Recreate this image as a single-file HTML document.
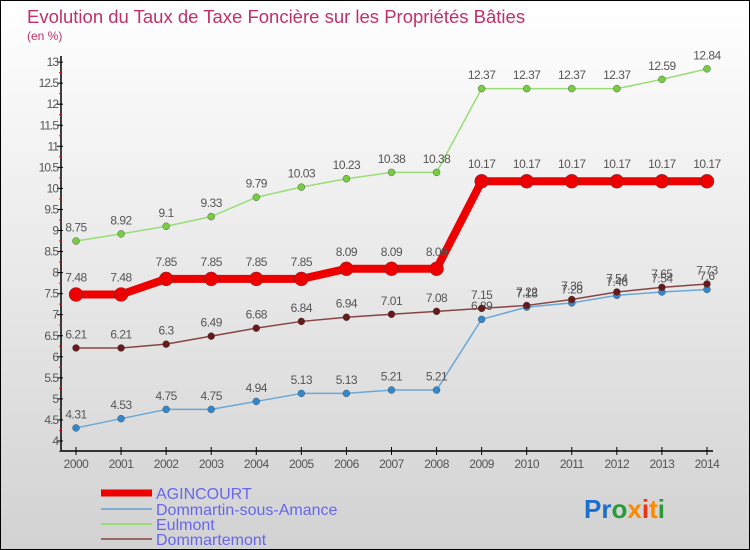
<!DOCTYPE html>
<html><head><meta charset="utf-8"><style>
body{margin:0}
#wrap{width:748px;height:548px;border:1px solid #000;background:linear-gradient(#ffffff,#d2d2d2);position:relative;overflow:hidden;font-family:"Liberation Sans",sans-serif}
</style></head><body>
<div id="wrap">
<svg id="svg" width="748" height="548" xmlns="http://www.w3.org/2000/svg">
<text x="26" y="22" font-size="18.5" fill="#c0306a">Evolution du Taux de Taxe Foncière sur les Propriétés Bâties</text>
<text x="26" y="39" font-size="12" fill="#c0306a">(en %)</text>
<g id="axes"></g>
<g id="series"></g>
<g>
<line x1="100" y1="492" x2="151" y2="492" stroke="#ee0000" stroke-width="7"/>
<text x="155" y="498" font-size="16" fill="#6666ee">AGINCOURT</text>
<line x1="100" y1="508" x2="151" y2="508" stroke="#7aaed2" stroke-width="2"/>
<text x="155" y="514" font-size="16" fill="#6666ee">Dommartin-sous-Amance</text>
<line x1="100" y1="523" x2="151" y2="523" stroke="#99dd77" stroke-width="2"/>
<text x="155" y="529" font-size="16" fill="#6666ee">Eulmont</text>
<line x1="100" y1="538" x2="151" y2="538" stroke="#996666" stroke-width="2"/>
<text x="155" y="544" font-size="16" fill="#6666ee">Dommartemont</text>
</g>
<text x="583" y="517" font-size="26" font-weight="bold"><tspan fill="#1a6fd0">Pr</tspan><tspan fill="#2a9a3a">o</tspan><tspan fill="#ff8800">x</tspan><tspan fill="#ee3311">i</tspan><tspan fill="#ff8800">t</tspan><tspan fill="#2a9a3a">i</tspan></text>
</svg>
</div>
<script>
const years=[2000,2001,2002,2003,2004,2005,2006,2007,2008,2009,2010,2011,2012,2013,2014];
const agincourt=[7.48,7.48,7.85,7.85,7.85,7.85,8.09,8.09,8.09,10.17,10.17,10.17,10.17,10.17,10.17];
const dommartin=[4.31,4.53,4.75,4.75,4.94,5.13,5.13,5.21,5.21,6.89,7.18,7.28,7.46,7.54,7.6];
const eulmont=[8.75,8.92,9.1,9.33,9.79,10.03,10.23,10.38,10.38,12.37,12.37,12.37,12.37,12.59,12.84];
const dommartemont=[6.21,6.21,6.3,6.49,6.68,6.84,6.94,7.01,7.08,7.15,7.22,7.36,7.54,7.65,7.73];
const yTicks=[4,4.5,5,5.5,6,6.5,7,7.5,8,8.5,9,9.5,10,10.5,11,11.5,12,12.5,13];
const NS="http://www.w3.org/2000/svg";
const X=i=>75+i*45.07;
const Y=v=>440-(v-4)*42.1;
function mk(tag,attrs,parent){const e=document.createElementNS(NS,tag);for(const k in attrs)e.setAttribute(k,attrs[k]);parent.appendChild(e);return e;}
const ax=document.getElementById('axes');
let l=mk('line',{x1:60,y1:55,x2:60,y2:450,stroke:'#000','stroke-width':1.5},ax);


l=mk('line',{x1:60,y1:450,x2:712,y2:450,stroke:'#000','stroke-width':1.5},ax);


yTicks.forEach(v=>{
  const y=Y(v);
  mk('line',{x1:56,y1:y,x2:62,y2:y,stroke:'#000'},ax);
  mk('line',{x1:58,y1:y+10.5,x2:61,y2:y+10.5,stroke:'#f00'},ax);
  const t=mk('text',{x:57,y:y+4,'font-size':12,fill:'#555','text-anchor':'end','letter-spacing':'-1'},ax);
  t.textContent=String(v);
  
  
});
years.forEach((yr,i)=>{
  const x=X(i);
  mk('line',{x1:x,y1:446,x2:x,y2:454,stroke:'#000'},ax);
  const t=mk('text',{x:x,y:467,'font-size':12,fill:'#555','text-anchor':'middle','letter-spacing':'-0.5'},ax);
  t.textContent=String(yr);
  
  
});
const sg=document.getElementById('series');
function series(vals,color,dot,w,r,name){
  const g=mk('g',{},sg);
  
  
  const p=mk('polyline',{points:vals.map((v,i)=>X(i)+','+Y(v)).join(' '),fill:'none',stroke:color,'stroke-width':w,'stroke-linejoin':'round'},g);
  
  
  vals.forEach((v,i)=>{
    const c=mk('circle',{cx:X(i),cy:Y(v),r:r,fill:dot,stroke:'#444','stroke-width':0.4},g);
    
    
    const t=mk('text',{x:X(i),y:Y(v)-r-6,'font-size':12,fill:'#555','text-anchor':'middle','letter-spacing':'-0.5'},g);
    t.textContent=String(v);
    
    
  });
}
series(eulmont,'#99dd77','#77cc44',1.5,3.5,'eulmont');
series(dommartin,'#6aa8d8','#3388cc',1.5,3.5,'dommartin');
series(dommartemont,'#884444','#661a1a',1.5,3.5,'dommartemont');
series(agincourt,'#ee0000','#ee0000',8,7,'agincourt');
</script>
</body></html>
